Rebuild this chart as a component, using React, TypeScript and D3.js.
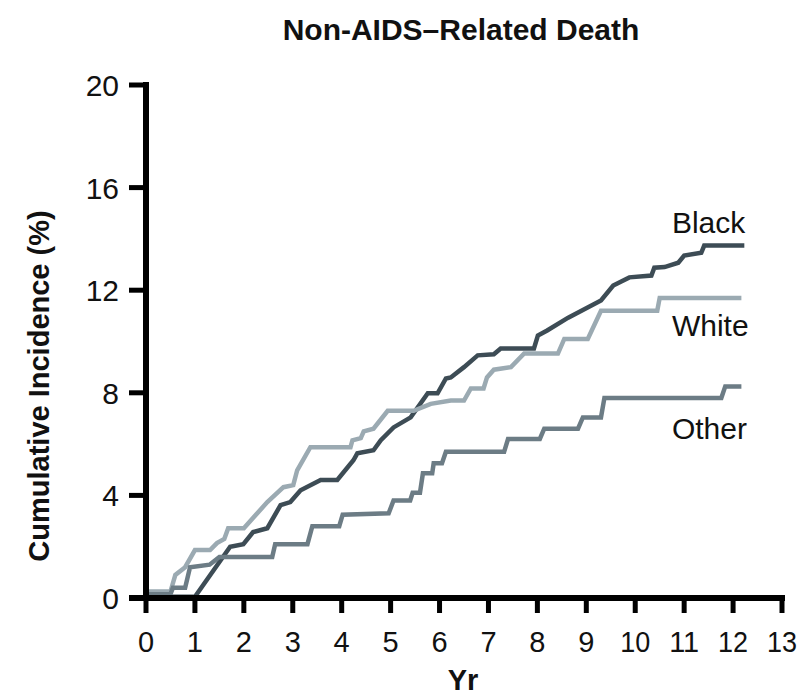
import React from "react";
import * as d3 from "d3";

const W = 810;
const H = 697;

const titleText = "Non-AIDS\u2013Related Death";
const xLabel = "Yr";
const yLabel = "Cumulative Incidence (%)";
const xTicks = [0, 1, 2, 3, 4, 5, 6, 7, 8, 9, 10, 11, 12, 13];
const yTicks = [0, 4, 8, 12, 16, 20];

// [year, cumulative incidence %]
const blackSeries: [number, number][] = [
  [0, 0.05], [1.0, 0.05], [1.72, 2.0], [1.99, 2.1], [2.19, 2.57], [2.48, 2.72],
  [2.75, 3.62], [2.95, 3.74], [3.16, 4.2], [3.57, 4.6], [3.91, 4.6], [4.24, 5.37],
  [4.32, 5.64], [4.65, 5.76], [4.8, 6.15], [5.06, 6.65], [5.41, 7.04], [5.76, 7.98],
  [5.96, 7.98], [6.13, 8.56], [6.23, 8.6], [6.5, 9.0], [6.78, 9.46], [7.11, 9.5],
  [7.25, 9.73], [7.93, 9.73], [8.01, 10.23], [8.2, 10.43], [8.63, 10.93], [9.3, 11.6],
  [9.55, 12.18], [9.88, 12.5], [10.33, 12.57], [10.39, 12.88], [10.6, 12.9],
  [10.88, 13.07], [11.0, 13.35], [11.35, 13.46], [11.41, 13.74], [12.23, 13.74],
];

const whiteSeries: [number, number][] = [
  [0, 0.25], [0.5, 0.25], [0.6, 0.9], [0.8, 1.2], [1.0, 1.87], [1.31, 1.87],
  [1.45, 2.14], [1.6, 2.3], [1.68, 2.72], [2.0, 2.72], [2.48, 3.74], [2.81, 4.32],
  [3.01, 4.4], [3.09, 4.98], [3.36, 5.88], [4.18, 5.88], [4.22, 6.15], [4.39, 6.23],
  [4.45, 6.5], [4.65, 6.6], [4.94, 7.3], [5.47, 7.3], [5.82, 7.57], [6.23, 7.7],
  [6.5, 7.7], [6.64, 8.17], [6.9, 8.17], [6.97, 8.6], [7.11, 8.9], [7.46, 9.0],
  [7.73, 9.53], [8.42, 9.53], [8.55, 10.1], [9.03, 10.1], [9.3, 11.2], [10.45, 11.2],
  [10.5, 11.7], [12.17, 11.7],
];

const otherSeries: [number, number][] = [
  [0, 0.15], [0.5, 0.15], [0.55, 0.4], [0.8, 0.4], [0.9, 1.2], [1.3, 1.3],
  [1.5, 1.6], [2.58, 1.6], [2.64, 2.1], [3.3, 2.1], [3.4, 2.8], [3.95, 2.8],
  [4.02, 3.25], [4.96, 3.3], [5.06, 3.8], [5.4, 3.8], [5.45, 4.1], [5.6, 4.1],
  [5.66, 4.86], [5.85, 4.86], [5.88, 5.25], [6.05, 5.25], [6.13, 5.7], [7.32, 5.7],
  [7.4, 6.2], [8.05, 6.2], [8.14, 6.6], [8.83, 6.6], [8.93, 7.04], [9.3, 7.04],
  [9.37, 7.8], [11.76, 7.8], [11.84, 8.25], [12.17, 8.25],
];

const seriesNames = ["Black", "White", "Other"];
const seriesData = [blackSeries, whiteSeries, otherSeries];
const seriesColors = ["#3d4c55", "#9baab2", "#6c7c85"];
// label anchor values (year, %) placed to the right of the curves
const labelPos: [number, number][] = [
  [10.75, 14.23],
  [10.75, 10.21],
  [10.75, 6.2],
];

const FONT = "'Liberation Sans', Arial, Helvetica, sans-serif";

export default function App() {
  const x = d3.scaleLinear().domain([0, 13]).range([146, 782]);
  const y = d3.scaleLinear().domain([0, 20]).range([598, 85]);
  const line = d3
    .line<[number, number]>()
    .x((d) => x(d[0]))
    .y((d) => y(d[1]))
    .curve(d3.curveLinear);

  const axisW = 6;
  const tickLen = 15;

  return (
    <svg
      width={W}
      height={H}
      viewBox={`0 0 ${W} ${H}`}
      style={{ position: "absolute", left: 0, top: 0, background: "#fff" }}
    >
      <rect x={0} y={0} width={W} height={H} fill="#fff" />
      <text
        x={461}
        y={40}
        textAnchor="middle"
        fontFamily={FONT}
        fontWeight="bold"
        fontSize={30}
        fill="#111"
      >
        {titleText}
      </text>

      {/* series lines */}
      {seriesData.map((s, i) => (
        <path
          key={seriesNames[i]}
          d={line(s) || ""}
          fill="none"
          stroke={seriesColors[i]}
          strokeWidth={4.5}
          strokeLinejoin="miter"
        />
      ))}

      {/* axes */}
      <line
        x1={x(0)}
        x2={x(0)}
        y1={y(20) - axisW / 2}
        y2={y(0)}
        stroke="#000"
        strokeWidth={axisW}
      />
      <line
        x1={x(0) - tickLen - 2}
        x2={x(13) + axisW / 2}
        y1={y(0)}
        y2={y(0)}
        stroke="#000"
        strokeWidth={axisW}
      />
      {yTicks.map((t) => (
        <g key={"y" + t}>
          <line
            x1={x(0) - tickLen - 2}
            x2={x(0)}
            y1={y(t)}
            y2={y(t)}
            stroke="#000"
            strokeWidth={5}
          />
          <text
            x={119}
            y={y(t) + 11}
            textAnchor="end"
            fontFamily={FONT}
            fontSize={30}
            fill="#111"
          >
            {t}
          </text>
        </g>
      ))}
      {xTicks.map((t) => (
        <g key={"x" + t}>
          <line
            x1={x(t)}
            x2={x(t)}
            y1={y(0)}
            y2={y(0) + tickLen}
            stroke="#000"
            strokeWidth={5}
          />
          <text
            x={x(t)}
            y={652}
            textAnchor="middle"
            fontFamily={FONT}
            fontSize={29}
            fill="#111"
            textLength={t >= 10 ? 30 : undefined}
            lengthAdjust="spacingAndGlyphs"
          >
            {t}
          </text>
        </g>
      ))}
      <text
        x={463}
        y={690}
        textAnchor="middle"
        fontFamily={FONT}
        fontWeight="bold"
        fontSize={29}
        fill="#111"
      >
        {xLabel}
      </text>
      <text
        transform={`translate(49, 386) rotate(-90)`}
        textAnchor="middle"
        fontFamily={FONT}
        fontWeight="bold"
        fontSize={29}
        fill="#111"
      >
        {yLabel}
      </text>

      {seriesNames.map((n, i) => (
        <text
          key={"lab" + n}
          x={x(labelPos[i][0])}
          y={y(labelPos[i][1])}
          fontFamily={FONT}
          fontSize={30}
          fill="#111"
        >
          {n}
        </text>
      ))}
    </svg>
  );
}
